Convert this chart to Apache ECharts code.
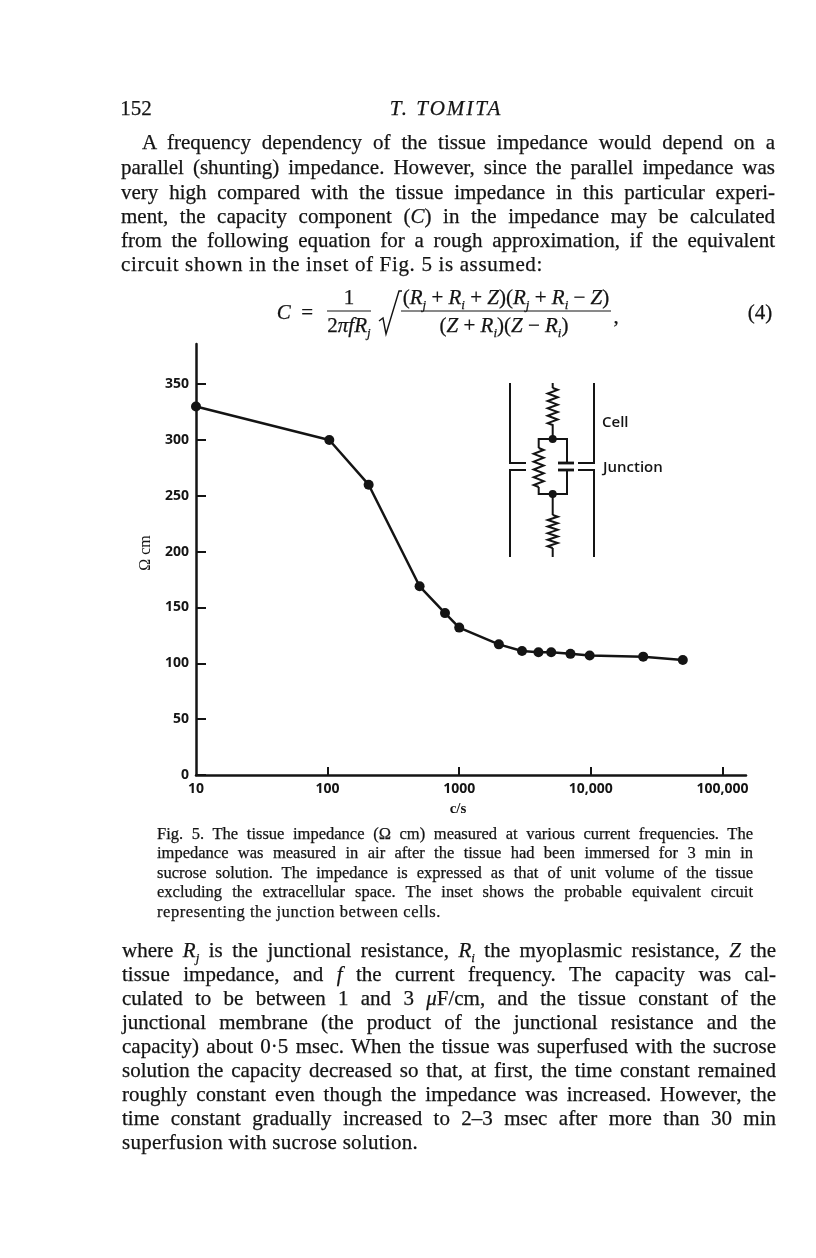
<!DOCTYPE html>
<html><head><meta charset="utf-8">
<script src="https://cdn.jsdelivr.net/npm/echarts@6/dist/echarts.min.js"></script>
<style>
html,body{margin:0;padding:0;background:#fff;width:816px;height:1258px;overflow:hidden}
#chart{position:absolute;left:0;top:0;width:816px;height:1258px}
.t{position:absolute;font-family:"Liberation Serif",serif;color:#141414;text-align:justify;text-align-last:justify;-webkit-text-stroke:.25px #141414}
.f{position:absolute;font-family:"Liberation Serif",serif;color:#141414;white-space:nowrap;font-size:21px;transform:translate(-50%,-50%);-webkit-text-stroke:.25px #141414}
.f i,.t i{font-style:italic}.f sub,.t sub{font-size:13px;line-height:0}
</style></head><body>
<div id="chart"></div>
<div id="page"></div>
<script>
const frequencies=[10,103,205,500,780,1000,2000,3000,4000,5000,7000,9800,25000,50000];
const impedance=[330,300,260,169,145,132,117,111,110,110,108.5,107,106,103];
const xTicks=[10,100,1000,10000,100000];
const xTickLabels=['10','100','1000','10,000','100,000'];
const yTicks=[0,50,100,150,200,250,300,350];
const header=['152','T. TOMITA'];
const paraTop=[
'A frequency dependency of the tissue impedance would depend on a',
'parallel (shunting) impedance. However, since the parallel impedance was',
'very high compared with the tissue impedance in this particular experi-',
'ment, the capacity component (<i>C</i>) in the impedance may be calculated',
'from the following equation for a rough approximation, if the equivalent',
'circuit shown in the inset of Fig. 5 is assumed:'];
const caption=[
'Fig. 5. The tissue impedance (Ω cm) measured at various current frequencies. The',
'impedance was measured in air after the tissue had been immersed for 3 min in',
'sucrose solution. The impedance is expressed as that of unit volume of the tissue',
'excluding the extracellular space. The inset shows the probable equivalent circuit',
'representing the junction between cells.'];
const paraBottom=[
'where <i>R<sub>j</sub></i> is the junctional resistance, <i>R<sub>i</sub></i> the myoplasmic resistance, <i>Z</i> the',
'tissue impedance, and <i>f</i> the current frequency. The capacity was cal-',
'culated to be between 1 and 3 <i>μ</i>F/cm, and the tissue constant of the',
'junctional membrane (the product of the junctional resistance and the',
'capacity) about 0·5 msec. When the tissue was superfused with the sucrose',
'solution the capacity decreased so that, at first, the time constant remained',
'roughly constant even though the impedance was increased. However, the',
'time constant gradually increased to 2–3 msec after more than 30 min',
'superfusion with sucrose solution.'];

const page=document.getElementById('page');
function naturalWidth(d){
  const s=document.createElement('span');s.innerHTML=d.innerHTML;
  s.style.cssText=`position:absolute;visibility:hidden;white-space:nowrap;font:${getComputedStyle(d).font};letter-spacing:0`;
  page.appendChild(s);const w=s.getBoundingClientRect().width;s.remove();return w;
}
function line(html,left,width,cy,size,lh,lastWidth){
  const d=document.createElement('div');d.className='t';d.innerHTML=html;
  d.style.cssText=`left:${left}px;width:${width}px;top:${cy-lh/2}px;font-size:${size}px;line-height:${lh}px;`;
  page.appendChild(d);
  const w=naturalWidth(d),n=d.textContent.length;
  if(lastWidth){d.style.textAlignLast='left';d.style.letterSpacing=((lastWidth-w)/n)+'px';d.style.whiteSpace='nowrap';}
  else if(w>width-14){d.style.letterSpacing=((width-14-w)/n)+'px';}
}
function eq(html,cx,cy,size,ls){
  const d=document.createElement('div');d.className='f';d.innerHTML=html;
  d.style.left=cx+'px';d.style.top=cy+'px';if(size)d.style.fontSize=size+'px';if(ls)d.style.letterSpacing=ls+'px';page.appendChild(d);
}
eq(header[0],136,108,21);
eq('<i>'+header[1]+'</i>',446,108,21,2);
const topY=[142,167,192,216,240,264];
paraTop.forEach((s,i)=>line(s,i==0?142:121,i==0?633:654,topY[i],21,24,i==5?422:0));
const capY=[834,853,873,892,912];
caption.forEach((s,i)=>line(s,157,596,capY[i],16.5,20,i==4?284:0));
const botY=[950,974,998,1022,1046,1070,1094,1118,1142];
paraBottom.forEach((s,i)=>line(s,122,654,botY[i],21,24,i==8?296:0));
eq('<i>C</i>&nbsp; =',295,312);
eq('1',349,297);
eq('2<i>πfR<sub>j</sub></i>',349,325);
eq('(<i>R<sub>j</sub></i> + <i>R<sub>i</sub></i> + <i>Z</i>)(<i>R<sub>j</sub></i> + <i>R<sub>i</sub></i> − <i>Z</i>)',506,297);
eq('(<i>Z</i> + <i>R<sub>i</sub></i>)(<i>Z</i> − <i>R<sub>i</sub></i>)',504,325);
eq(',',616,316);
eq('(4)',760,312);

function zigzag(x,y0,y1,n,a){
  const pts=[];const h=(y1-y0)/(n*2);
  pts.push([x,y0]);
  for(let i=0;i<n*2;i++)pts.push([x+(i%2?-a:a),y0+h*(i+.5)]);
  pts.push([x,y1]);
  return pts;
}
const ink='#141414';
function pl(points,lw){return{type:'polyline',shape:{points},style:{stroke:ink,lineWidth:lw||2,fill:null},silent:true};}
function dot(x,y){return{type:'circle',shape:{cx:x,cy:y,r:4},style:{fill:ink},silent:true};}
function label(text,x,y){return{type:'text',x,y,style:{text,font:'600 15px "Open Sans"',fill:ink,textVerticalAlign:'middle'},silent:true};}
const inset=[
  pl([[510,383],[510,463],[526,463]]),pl([[526,470],[510,470],[510,557]]),
  pl([[594,383],[594,463],[578,463]]),pl([[578,470],[594,470],[594,557]]),
  pl(zigzag(552.7,388,425,5,5).concat([[552.7,439]])),pl([[552.7,383],[552.7,388]]),
  pl([[538.7,448],[538.7,439],[567,439],[567,463]]),
  pl(zigzag(538.7,448,487,5,5)),
  pl([[538.7,487],[538.7,494],[567,494],[567,470]]),
  pl([[558,463],[574,463]],2.8),pl([[558,470],[574,470]],2.8),
  pl([[552.7,494],[552.7,515]]),pl(zigzag(552.7,515,548,5,5)),pl([[552.7,548],[552.7,557]]),
  dot(552.7,439),dot(552.7,494),
  label('Cell',602,423),label('Junction',603,468),
  // equation rules
  pl([[327,311],[371,311]],1.2),pl([[401,311],[611,311]],1.2),
  pl([[379,321],[383,318],[386,334],[399,291],[402,291]],1.4)
];
const chart=echarts.init(document.getElementById('chart'),null,{renderer:'canvas'});
const labelFont={fontFamily:'"Open Sans"',fontWeight:700,fontSize:14,color:ink};
chart.setOption({
  animation:false,backgroundColor:'#fff',
  grid:{left:196,right:70,top:344,bottom:483,containLabel:false},
  xAxis:{type:'log',logBase:10,min:10,max:151000,
    name:'c/s',nameLocation:'middle',nameGap:27,
    nameTextStyle:{fontFamily:'"Liberation Serif"',fontWeight:700,fontSize:15,color:ink,padding:[0,26,0,0]},
    axisLine:{lineStyle:{color:ink,width:2.5}},splitLine:{show:false},minorTick:{show:false},
    axisTick:{show:true,inside:true,length:8,customValues:xTicks.slice(1),lineStyle:{color:ink,width:2}},
    axisLabel:{...labelFont,margin:7,customValues:xTicks,formatter:v=>xTickLabels[xTicks.indexOf(Math.round(v))]??''}},
  yAxis:{type:'value',min:0,max:386,
    name:'Ω cm',nameLocation:'middle',nameGap:42,nameRotate:90,
    nameTextStyle:{fontFamily:'"Liberation Serif"',fontWeight:400,fontSize:16,color:ink,padding:[0,0,0,13]},
    axisLine:{show:true,lineStyle:{color:ink,width:2.5}},splitLine:{show:false},
    axisTick:{show:true,inside:true,length:10,customValues:yTicks,lineStyle:{color:ink,width:2}},
    axisLabel:{...labelFont,margin:7,customValues:yTicks}},
  series:[{type:'line',data:frequencies.map((f,i)=>[f,impedance[i]]),clip:false,
    symbol:'circle',symbolSize:10,showAllSymbol:true,
    lineStyle:{color:ink,width:2.5},itemStyle:{color:ink}}],
  graphic:inset
});
</script></body></html>
